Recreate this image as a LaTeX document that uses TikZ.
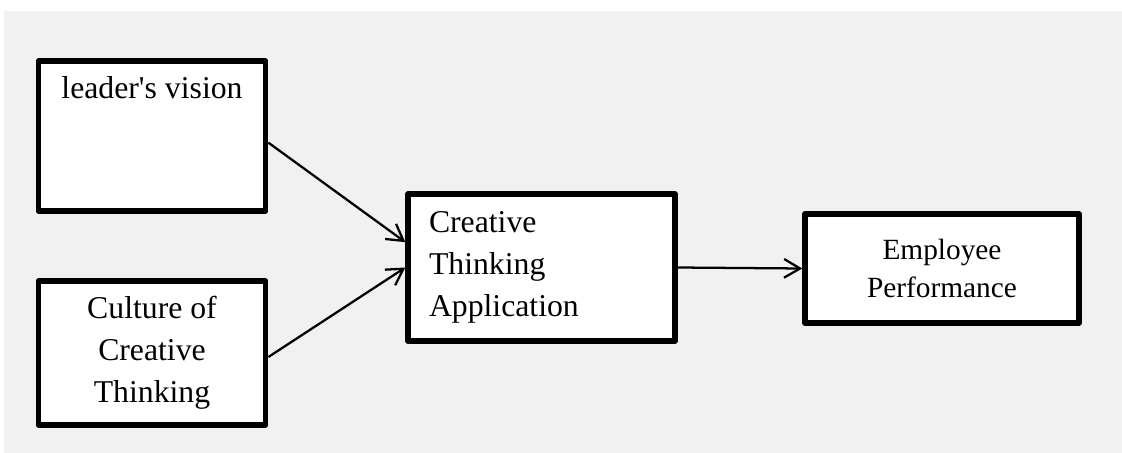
\documentclass[tikz,border=0pt]{standalone}
\usepackage{fontspec}
\setmainfont{Liberation Serif}
\usepackage{tikz}
\usepackage{xcolor}
\usetikzlibrary{arrows.meta}

\definecolor{bggray}{RGB}{241,241,241}

\tikzset{
  varbox/.style={draw=black, fill=white, line width=4pt, line join=round,
    inner sep=0pt, align=center, font={\fontsize{23.8}{31.5}\selectfont}},
  link/.style={line width=1.7pt, -{Straight Barb[length=12pt,width=14pt,line width=1.7pt]}}
}

\begin{document}
\begin{tikzpicture}[x=0.75pt,y=-0.75pt]
\useasboundingbox (0,0) rectangle (1122,453);
\fill[bggray] (4,11) rectangle (1122,453);
% independent variables
\node[varbox, minimum width=170.6pt, minimum height=112.5pt] (vision) at (152,136)
  {leader\textquotesingle s vision\\ \strut\\ \strut};
\node[varbox, minimum width=170.6pt, minimum height=108pt] (culture) at (152,353)
  {Culture of\\Creative\\Thinking};
% mediator
\node[varbox, minimum width=200.25pt, minimum height=110.25pt, text width=168.75pt,
  inner xsep=15.75pt, align=left] (apply) at (541.5,267.5)
  {Creative\\Thinking\\Application};
% dependent variable
\node[varbox, minimum width=205.5pt, minimum height=81.75pt,
  font={\fontsize{22}{29}\selectfont}] (perf) at (942,268.5)
  {Employee\\Performance};
% links
\draw[link] ([yshift=-5pt]vision.east) -- ([yshift=19pt]apply.west);
\draw[link] ([yshift=-3pt]culture.east) -- (apply.west);
\draw[link] (apply.east) -- (perf.west);
\end{tikzpicture}
\end{document}
